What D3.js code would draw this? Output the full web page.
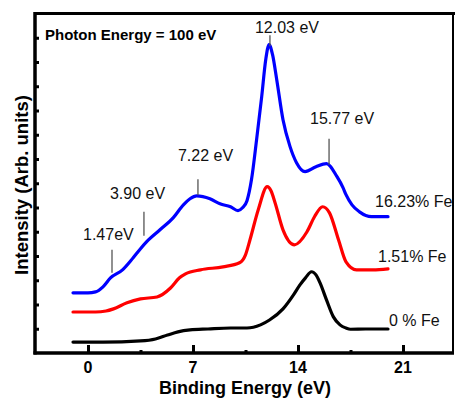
<!DOCTYPE html>
<html>
<head>
<meta charset="utf-8">
<script src="https://cdn.jsdelivr.net/npm/d3@7"></script>
<style>
  html, body { margin: 0; padding: 0; background: #fff; }
  svg { display: block; }
</style>
</head>
<body>
<svg id="chart" width="455" height="399"></svg>
<script>
// ---------- data ----------
const seriesNames = ["16.23% Fe", "1.51% Fe", "0 % Fe"];

const energyBlue = [-1.0, 0.0, 0.5, 1.0, 1.5, 2.3, 3.0, 3.5, 3.9, 4.8, 5.69, 6.36, 6.8, 7.24, 8.13, 8.8, 9.5, 10.0, 10.3, 10.6, 10.9, 11.24, 11.58, 11.85, 12.07, 12.3, 12.58, 13.0, 13.47, 13.9, 14.47, 15.2, 15.9, 16.6, 17.0, 17.2, 17.6, 18.1, 18.9, 19.5, 20.0];
const intensityBlue = [2.48, 2.48, 2.52, 2.73, 3.10, 3.43, 3.92, 4.30, 4.58, 5.08, 5.58, 6.11, 6.36, 6.48, 6.36, 6.15, 6.03, 5.87, 5.99, 6.28, 7.15, 8.80, 10.57, 12.10, 12.72, 12.31, 11.28, 9.62, 8.51, 7.85, 7.48, 7.68, 7.81, 7.27, 6.82, 6.53, 6.11, 5.82, 5.62, 5.62, 5.62];

const energyRed = [-1.0, 0.5, 1.2, 1.7, 2.6, 3.5, 4.6, 5.5, 6.1, 6.5, 7.5, 9.0, 10.1, 10.5, 10.8, 11.35, 11.95, 12.2, 12.47, 13.0, 13.76, 14.6, 15.1, 15.64, 16.1, 16.7, 17.2, 17.9, 19.0, 20.0];
const intensityRed = [1.69, 1.69, 1.73, 1.82, 2.07, 2.23, 2.31, 2.68, 3.10, 3.26, 3.43, 3.55, 3.72, 4.05, 4.67, 5.91, 6.86, 6.69, 6.20, 5.08, 4.46, 5.00, 5.62, 6.03, 5.78, 4.67, 3.76, 3.43, 3.43, 3.47];

const energyBlack = [-1.0, 1.0, 3.5, 4.5, 5.3, 6.0, 6.8, 8.0, 9.5, 10.6, 11.5, 12.1, 13.0, 13.7, 14.13, 14.5, 14.9, 15.2, 15.47, 15.9, 16.36, 16.8, 17.2, 17.5, 18.5, 20.0];
const intensityBlack = [0.45, 0.45, 0.50, 0.58, 0.74, 0.87, 0.95, 0.99, 1.03, 1.03, 1.16, 1.36, 1.82, 2.40, 2.81, 3.10, 3.35, 3.22, 2.89, 2.19, 1.49, 1.16, 1.03, 0.98, 0.99, 0.99];

const peakLabels = ["1.47eV", "3.90 eV", "7.22 eV", "12.03 eV", "15.77 eV"];
const peakEnergies = [1.6, 3.73, 7.33, 12.13, 16.07];

const xTickValues = [0, 7, 14, 21];
const xMinorTicks = [3.5, 10.5, 17.5];
const yTickValues = [1, 2, 3, 4, 5, 6, 7, 8, 9, 10, 11, 12, 13];

const titleText = "Photon Energy = 100 eV";
const xTitle = "Binding Energy (eV)";
const yTitle = "Intensity (Arb. units)";

// ---------- layout ----------
const plot = { left: 35, right: 453, top: 13.5, bottom: 353 };
const colors = ["#0000ff", "#ff0000", "#000000"];
const FONT = "'Liberation Sans', Arial, Helvetica, sans-serif";

const svg = d3.select("#chart");

const x = d3.scaleLinear()
  .domain([(plot.left - 88) / 15, (plot.right - 88) / 15])
  .range([plot.left, plot.right]);
const y = d3.scaleLinear().domain([0, 14]).range([plot.bottom, plot.top]);

const series = [
  { name: seriesNames[0], e: energyBlue, v: intensityBlue, color: colors[0] },
  { name: seriesNames[1], e: energyRed, v: intensityRed, color: colors[1] },
  { name: seriesNames[2], e: energyBlack, v: intensityBlack, color: colors[2] }
];

const line = d3.line()
  .x(d => x(d[0]))
  .y(d => y(d[1]))
  .curve(d3.curveMonotoneX);

// curves
series.forEach(s => {
  const pts = s.e.map((e, i) => [e, s.v[i]]);
  svg.append("path")
    .attr("d", line(pts))
    .attr("fill", "none")
    .attr("stroke", s.color)
    .attr("stroke-width", 3.2)
    .attr("stroke-linejoin", "round")
    .attr("stroke-linecap", "round");
});

// series labels
const seriesLabelOffsets = [[-13, -10], [-10, -7], [1, -3]];
series.forEach((s, i) => {
  const lastE = s.e[s.e.length - 1];
  const lastV = s.v[s.v.length - 1];
  svg.append("text")
    .attr("x", x(lastE) + seriesLabelOffsets[i][0])
    .attr("y", y(lastV) + seriesLabelOffsets[i][1])
    .attr("font-family", FONT)
    .attr("font-size", 16)
    .attr("fill", "#111")
    .text(s.name);
});

// peak annotations on the blue curve
function blueAt(e) {
  const idx = d3.bisectLeft(energyBlue, e);
  const i1 = Math.min(Math.max(idx, 1), energyBlue.length - 1);
  const e0 = energyBlue[i1 - 1], e1 = energyBlue[i1];
  const t = (e - e0) / (e1 - e0);
  return intensityBlue[i1 - 1] + t * (intensityBlue[i1] - intensityBlue[i1 - 1]);
}
// [gap below line, line length, text dx, text gap above line]
const annLayout = [
  [4, 23, -29, 10],
  [9, 24, -34, 13],
  [1, 16, -20, 18],
  [1, 11, -15, 2],
  [2, 26, -19, 15]
];
peakLabels.forEach((lab, i) => {
  const px = x(peakEnergies[i]);
  const cy = y(blueAt(peakEnergies[i]));
  const [gap, len, dx, tgap] = annLayout[i];
  const y2 = cy - gap, y1 = y2 - len;
  svg.append("line")
    .attr("x1", px).attr("x2", px)
    .attr("y1", y1).attr("y2", y2)
    .attr("stroke", "#555").attr("stroke-width", 1.3);
  svg.append("text")
    .attr("x", px + dx)
    .attr("y", y1 - tgap)
    .attr("font-family", FONT)
    .attr("font-size", 16)
    .attr("fill", "#111")
    .text(lab);
});

// frame
svg.append("line").attr("x1", plot.left).attr("x2", 455).attr("y1", plot.top).attr("y2", plot.top)
  .attr("stroke", "#000").attr("stroke-width", 3);
svg.append("line").attr("x1", plot.right).attr("x2", plot.right).attr("y1", plot.top).attr("y2", plot.bottom)
  .attr("stroke", "#000").attr("stroke-width", 2);

// y axis (inward ticks, no labels)
const yAxis = d3.axisRight(y).tickValues(yTickValues).tickSize(4).tickFormat("");
const gy = svg.append("g").attr("transform", `translate(${plot.left},0)`).call(yAxis);
gy.select(".domain").remove();
gy.selectAll(".tick line").attr("stroke", "#000").attr("stroke-width", 3);
svg.append("line").attr("x1", plot.left).attr("x2", plot.left).attr("y1", plot.top - 1.5).attr("y2", plot.bottom + 1.5)
  .attr("stroke", "#000").attr("stroke-width", 3.5);

// x axis minor ticks
const xMinor = d3.axisTop(x).tickValues(xMinorTicks).tickSize(3).tickFormat("");
const gxm = svg.append("g").attr("transform", `translate(0,${plot.bottom})`).call(xMinor);
gxm.select(".domain").remove();
gxm.selectAll(".tick line").attr("stroke", "#000").attr("stroke-width", 3);

// x axis major ticks (inward)
const xMajor = d3.axisTop(x).tickValues(xTickValues).tickSize(8).tickFormat("");
const gx = svg.append("g").attr("transform", `translate(0,${plot.bottom})`).call(xMajor);
gx.select(".domain").remove();
gx.selectAll(".tick line").attr("stroke", "#000").attr("stroke-width", 3);

svg.append("line").attr("x1", plot.left - 1.5).attr("x2", plot.right + 1).attr("y1", plot.bottom).attr("y2", plot.bottom)
  .attr("stroke", "#000").attr("stroke-width", 3.5);

// x tick labels
svg.append("g").selectAll("text")
  .data(xTickValues)
  .join("text")
  .attr("x", d => x(d))
  .attr("y", 373)
  .attr("text-anchor", "middle")
  .attr("font-family", FONT)
  .attr("font-weight", "bold")
  .attr("font-size", 16)
  .attr("fill", "#000")
  .text(d => d);

// axis titles
svg.append("text")
  .attr("x", 245).attr("y", 393.5)
  .attr("text-anchor", "middle")
  .attr("font-family", FONT).attr("font-weight", "bold").attr("font-size", 18)
  .text(xTitle);
svg.append("text")
  .attr("transform", "translate(28,185) rotate(-90)")
  .attr("text-anchor", "middle")
  .attr("font-family", FONT).attr("font-weight", "bold").attr("font-size", 18.5)
  .text(yTitle);

// in-plot title
svg.append("text")
  .attr("x", 45).attr("y", 40)
  .attr("font-family", FONT).attr("font-weight", "bold").attr("font-size", 15)
  .text(titleText);
</script>
</body>
</html>
